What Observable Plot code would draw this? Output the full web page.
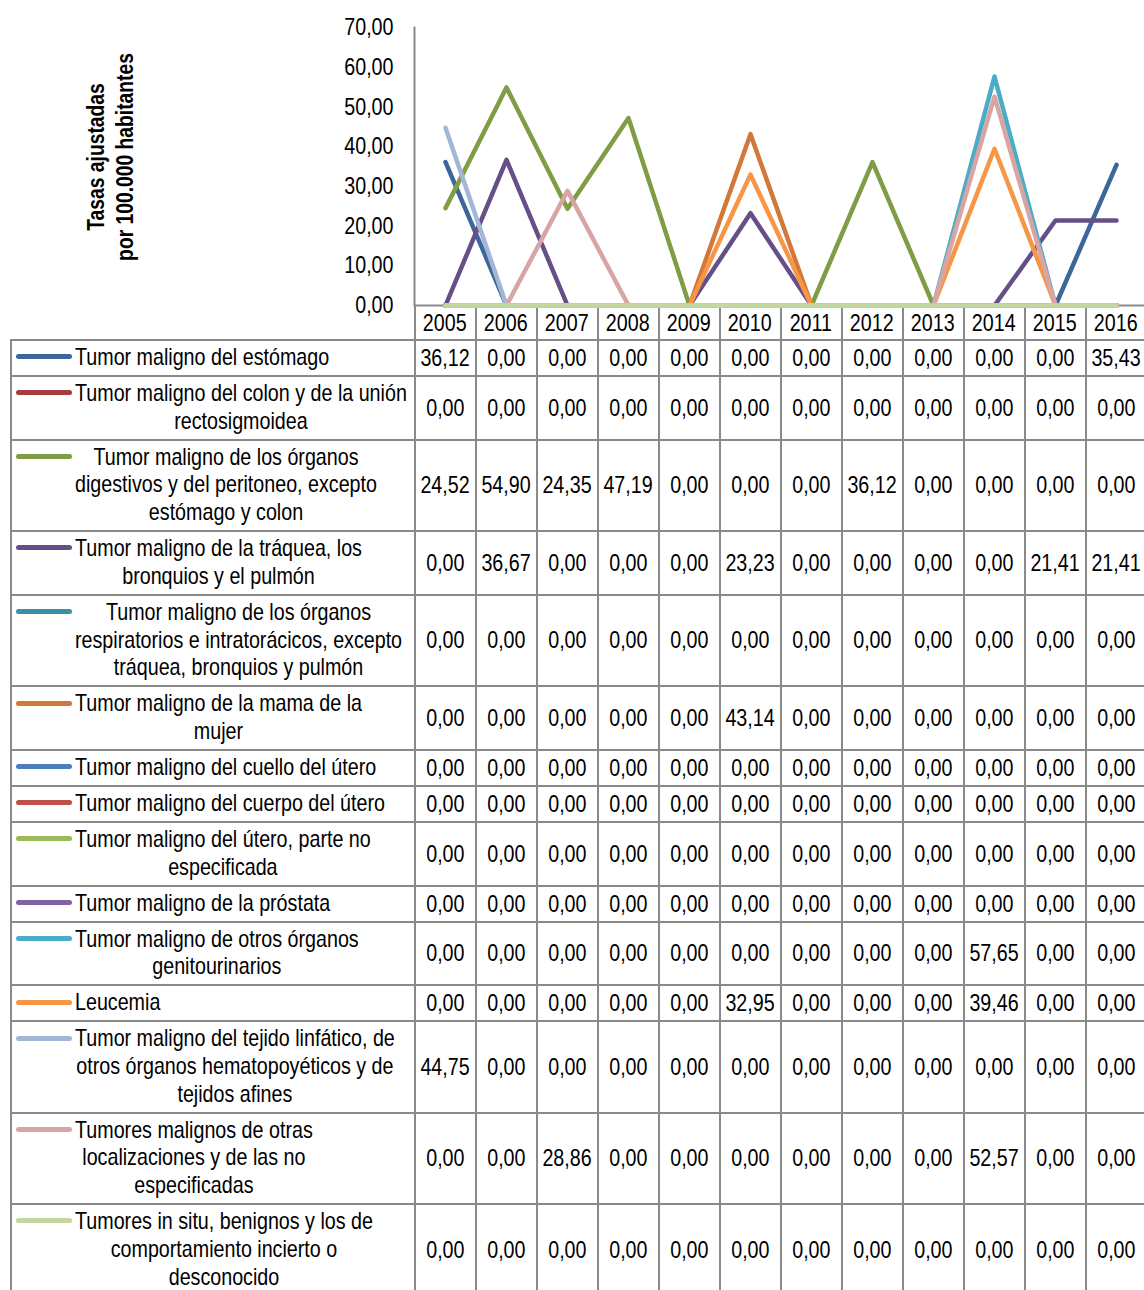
<!DOCTYPE html>
<html>
<head>
<meta charset="utf-8">
<script src="https://cdn.jsdelivr.net/npm/d3@7"></script>
<script src="https://cdn.jsdelivr.net/npm/@observablehq/plot@0.6"></script>
<style>
  body { margin: 0; background: #fff; }
  #wrap { position: relative; width: 1144px; height: 1290px; overflow: hidden; color: #000;
          font-family: "Liberation Sans", Arial, sans-serif; }
  #chart { position: absolute; left: 0; top: 0; z-index: 2; }
  #chart svg { overflow: visible; background: transparent; }
  .cell { position: absolute; box-sizing: border-box; border-left: 2px solid #8a8a8a; border-top: 2px solid #8a8a8a; }
  .val { display: flex; align-items: center; justify-content: center; font-size: 24px; white-space: nowrap; }
  .val span { display: inline-block; transform: scaleX(0.82); }
  .lab { display: flex; align-items: flex-start; padding-top: 2px; font-size: 24px; line-height: 27.7px; overflow: visible; }
  .key { width: 56px; height: 5px; border-radius: 2.5px; margin-left: 4.5px; margin-top: 11.4px; flex: none; }
  .txt { display: inline-block; text-align: center; margin-left: 3px; white-space: nowrap; flex: none;
         transform: scaleX(0.82); transform-origin: 0 0; }
  #ytitle { position: absolute; left: 110.5px; top: 157px; transform: translate(-50%, -50%) rotate(-90deg) scaleX(0.82);
            font-weight: bold; font-size: 23.5px; line-height: 29px; text-align: center; white-space: nowrap; }
</style>
</head>
<body>
<div id="wrap">
  <div id="ytitle">Tasas ajustadas<br>por 100.000 habitantes</div>
  <div id="chart"></div>
  <div id="table"></div>
</div>
<script>
// ---- data ----
const years = [2005, 2006, 2007, 2008, 2009, 2010, 2011, 2012, 2013, 2014, 2015, 2016];
const yTicks = [0, 10, 20, 30, 40, 50, 60, 70];
const causes = [
  "Tumor maligno del estómago",
  "Tumor maligno del colon y de la unión\nrectosigmoidea",
  "Tumor maligno de los órganos\ndigestivos y del peritoneo, excepto\nestómago y colon",
  "Tumor maligno de la tráquea, los\nbronquios y el pulmón",
  "Tumor maligno de los órganos\nrespiratorios e intratorácicos, excepto\ntráquea, bronquios y pulmón",
  "Tumor maligno de la mama de la\nmujer",
  "Tumor maligno del cuello del útero",
  "Tumor maligno del cuerpo del útero",
  "Tumor maligno del útero, parte no\nespecificada",
  "Tumor maligno de la próstata",
  "Tumor maligno de otros órganos\ngenitourinarios",
  "Leucemia",
  "Tumor maligno del tejido linfático, de\notros órganos hematopoyéticos y de\ntejidos afines",
  "Tumores malignos de otras\nlocalizaciones y de las no\nespecificadas",
  "Tumores in situ, benignos y los de\ncomportamiento incierto o\ndesconocido"
];
const colors = ["#3c679a", "#a33d3b", "#7f9d44", "#664f86", "#3b8fa5", "#d1783a", "#4a7ec1", "#c0504d",
                "#9bbb59", "#8064a2", "#4bacc6", "#f79646", "#a3b6d6", "#d8a5a4", "#c4d7a0"];

const estomago       = [36.12, 0, 0, 0, 0, 0, 0, 0, 0, 0, 0, 35.43];
const colon          = [0, 0, 0, 0, 0, 0, 0, 0, 0, 0, 0, 0];
const digestivos     = [24.52, 54.90, 24.35, 47.19, 0, 0, 0, 36.12, 0, 0, 0, 0];
const traquea        = [0, 36.67, 0, 0, 0, 23.23, 0, 0, 0, 0, 21.41, 21.41];
const respiratorios  = [0, 0, 0, 0, 0, 0, 0, 0, 0, 0, 0, 0];
const mama           = [0, 0, 0, 0, 0, 43.14, 0, 0, 0, 0, 0, 0];
const cuelloUtero    = [0, 0, 0, 0, 0, 0, 0, 0, 0, 0, 0, 0];
const cuerpoUtero    = [0, 0, 0, 0, 0, 0, 0, 0, 0, 0, 0, 0];
const uteroNoEsp     = [0, 0, 0, 0, 0, 0, 0, 0, 0, 0, 0, 0];
const prostata       = [0, 0, 0, 0, 0, 0, 0, 0, 0, 0, 0, 0];
const genitourinarios= [0, 0, 0, 0, 0, 0, 0, 0, 0, 57.65, 0, 0];
const leucemia       = [0, 0, 0, 0, 0, 32.95, 0, 0, 0, 39.46, 0, 0];
const linfatico      = [44.75, 0, 0, 0, 0, 0, 0, 0, 0, 0, 0, 0];
const otrasLocal     = [0, 0, 28.86, 0, 0, 0, 0, 0, 0, 52.57, 0, 0];
const inSitu         = [0, 0, 0, 0, 0, 0, 0, 0, 0, 0, 0, 0];

const seriesValues = [estomago, colon, digestivos, traquea, respiratorios, mama, cuelloUtero, cuerpoUtero,
                      uteroNoEsp, prostata, genitourinarios, leucemia, linfatico, otrasLocal, inSitu];

// ---- build ----
const FONT = '"Liberation Sans", Arial, sans-serif';
const NARROW = 0.82;
const fmt = d => d.toFixed(2).replace(".", ",");
const data = causes.flatMap((c, i) => years.map((y, j) => ({series: c, year: y, value: seriesValues[i][j]})));

const GRAY = "#8a8a8a";
const chart = Plot.plot({
  width: 1144, height: 340,
  marginTop: 27, marginBottom: 35, marginLeft: 414, marginRight: 0,
  style: {fontFamily: FONT, fontSize: "24px", color: "#000", background: "transparent", overflow: "visible"},
  x: {type: "point", domain: years, range: [414, 414 + 12 * 61.1], padding: 0.5, axis: null},
  y: {domain: [0, 70]},
  color: {domain: causes, range: colors},
  marks: [
    Plot.frame({anchor: "left", stroke: GRAY, strokeWidth: 2}),
    Plot.axisY({ticks: yTicks, tickSize: 0, tickPadding: 21, tickFormat: fmt, fontSize: 24, label: null}),
    Plot.ruleY([0], {stroke: GRAY, strokeWidth: 2}),
    Plot.line(data, {x: "year", y: "value", z: "series", stroke: "series", strokeWidth: 4.5,
                     strokeLinejoin: "round", strokeLinecap: "round"})
  ]
});
document.getElementById("chart").appendChild(chart);
// condensed look (Arial Narrow) for the tick labels
chart.querySelectorAll("text").forEach(t => {
  const w = t.getComputedTextLength();
  if (w > 0) { t.setAttribute("textLength", w * NARROW); t.setAttribute("lengthAdjust", "spacingAndGlyphs"); }
});

// ---- data table below the chart, aligned on the x scale ----
const xs = chart.scale("x");
const colorScale = chart.scale("color");
const step = xs.apply(years[1]) - xs.apply(years[0]);
const colLeft = years.map(y => xs.apply(y) - step / 2);
const tableLeft = 10.5;
const headerTop = chart.scale("y").apply(0);
const headerBottom = 340;
const table = document.getElementById("table");

function cell(x0, y0, w, h, cls, extra) {
  const d = document.createElement("div");
  d.className = "cell " + cls;
  d.style.left = (x0 - 1) + "px";
  d.style.top = (y0 - 1) + "px";
  d.style.width = w + "px";
  d.style.height = h + "px";
  if (extra) Object.assign(d.style, extra);
  table.appendChild(d);
  return d;
}
function valText(el, s) {
  const sp = document.createElement("span");
  sp.textContent = s;
  el.appendChild(sp);
}

// header row: years
years.forEach((y, j) => {
  const c = cell(colLeft[j], headerTop + 1, step, headerBottom - headerTop, "val", {borderTop: "none"});
  valText(c, String(y));
});

// series rows
let rowTop = headerBottom;
causes.forEach((c, i) => {
  const lines = c.split("\n");
  const h = 8.3 + 27.7 * lines.length;
  const lc = cell(tableLeft, rowTop, colLeft[0] - tableLeft, h, "lab");
  const key = document.createElement("div");
  key.className = "key";
  key.style.background = colorScale.apply(c);
  lc.appendChild(key);
  const t = document.createElement("div");
  t.className = "txt";
  lines.forEach(l => { const s = document.createElement("div"); s.textContent = l; t.appendChild(s); });
  lc.appendChild(t);
  years.forEach((y, j) => {
    const v = cell(colLeft[j], rowTop, step, h, "val");
    valText(v, fmt(seriesValues[i][j]));
  });
  rowTop += h;
});
</script>
</body>
</html>
